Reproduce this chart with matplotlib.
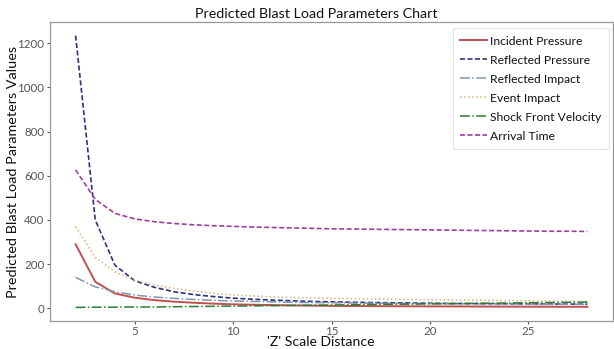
import matplotlib
matplotlib.use("Agg")
import matplotlib.pyplot as plt

z_distance = list(range(2, 29))
incident_pressure = [290, 120, 67, 48, 37, 30, 25, 21, 18, 16, 14.5, 13, 12, 11, 10.5, 10,
                     9.5, 9, 8.7, 8.4, 8.1, 7.8, 7.6, 7.4, 7.2, 7, 6.8]
reflected_pressure = [1235, 400, 195, 125, 95, 75, 62, 53, 46, 41, 37, 34, 31, 29, 27.5, 26,
                      25, 24, 23, 22, 21.5, 21, 20.5, 20, 19.5, 19, 18.5]
reflected_impact = [140, 97, 75, 60, 51, 45, 40, 36, 33, 31, 29, 27, 26, 25, 24, 23,
                    22.5, 22, 21.5, 21, 20.5, 20, 19.5, 19, 18.8, 18.5, 18]
event_impact = [370, 230, 165, 127, 105, 90, 78, 68, 60, 56, 52, 49, 47, 45, 44, 42,
                41, 40, 39, 38, 37, 36, 35, 34, 33, 32, 31]
shock_front_velocity = [4, 5, 5, 6, 6, 7, 8, 9, 10, 11, 12, 13, 14, 15, 16, 17,
                        18, 19, 20, 21, 22, 23, 24, 25, 26, 27, 28]
arrival_time = [627, 493, 430, 405, 392, 384, 378, 374, 371, 368, 366, 364, 362, 360, 359, 358,
                357, 356, 355, 354, 353, 352, 351, 350, 349, 349, 348]

series_labels = ["Incident Pressure", "Reflected Pressure", "Reflected Impact",
                 "Event Impact", "Shock Front Velocity", "Arrival Time"]

plt.rcParams['font.family'] = ['Lato', 'DejaVu Sans']

W, H = 614, 349
fig = plt.figure(figsize=(W / 100, H / 100), dpi=100)
ax = fig.add_axes([50 / W, 1 - 321 / H, 563 / W, (321 - 22) / H])

ax.plot(z_distance, incident_pressure, color="#c0504d", lw=1.4, ls="-", label=series_labels[0])
ax.plot(z_distance, reflected_pressure, color="#2f3182", lw=1.2, ls=(0, (3, 1.5)), label=series_labels[1])
ax.plot(z_distance, reflected_impact, color="#7d98b3", lw=1.1, ls="-.", label=series_labels[2])
ax.plot(z_distance, event_impact, color="#d9b27a", lw=1.1, ls=":", label=series_labels[3])
ax.plot(z_distance, shock_front_velocity, color="#2e7d32", lw=1.1, ls="-.", label=series_labels[4])
ax.plot(z_distance, arrival_time, color="#9a3f9e", lw=1.2, ls=(0, (3, 1.5)), label=series_labels[5])

ax.set_xticks([5, 10, 15, 20, 25])
ax.set_yticks([0, 200, 400, 600, 800, 1000, 1200])
ax.tick_params(labelsize=8.3, colors="#555555", length=2.5, width=0.8, pad=1.5)
ax.tick_params(axis="x", pad=1)
for s in ax.spines.values():
    s.set_color("#999999")
    s.set_linewidth(0.9)

xl = fig.text(321 / W, 1 - 341.5 / H, "'Z' Scale Distance", fontsize=11, ha="center", va="center",
              color="#111111")
yl = fig.text(13 / W, 1 - 172 / H, "Predicted Blast Load Parameters Values", fontsize=11,
              rotation=90, ha="center", va="center", color="#111111")
tl = fig.text(316 / W, 1 - 13.5 / H, "Predicted Blast Load Parameters Chart", fontsize=11,
              ha="center", va="center", color="#111111")

# fit text sizes to the measured widths of the reference
fig.canvas.draw()
r = fig.canvas.get_renderer()
for txt, target, horiz in [(xl, 107, True), (yl, 251, False), (tl, 243, True)]:
    bb = txt.get_window_extent(r)
    cur = bb.width if horiz else bb.height
    txt.set_fontsize(txt.get_fontsize() * target / cur)

probe = fig.text(0, 0, series_labels[4], fontsize=10)
fs = 10 * 112 / probe.get_window_extent(r).width
probe.remove()
fpx = fs * 100 / 72

leg = ax.legend(loc="upper right", fontsize=fs, frameon=True, handlelength=27 / fpx,
                handletextpad=3 / fpx, labelspacing=0.66, borderpad=0.62,
                borderaxespad=0, bbox_to_anchor=(559 / 563, (321 - 28) / 299),
                fancybox=True, framealpha=1)
leg.get_frame().set_edgecolor("#e2e2e2")
leg.get_frame().set_linewidth(0.8)
for t in leg.get_texts():
    t.set_color("#111111")

fig.savefig("out.png", dpi=100)
